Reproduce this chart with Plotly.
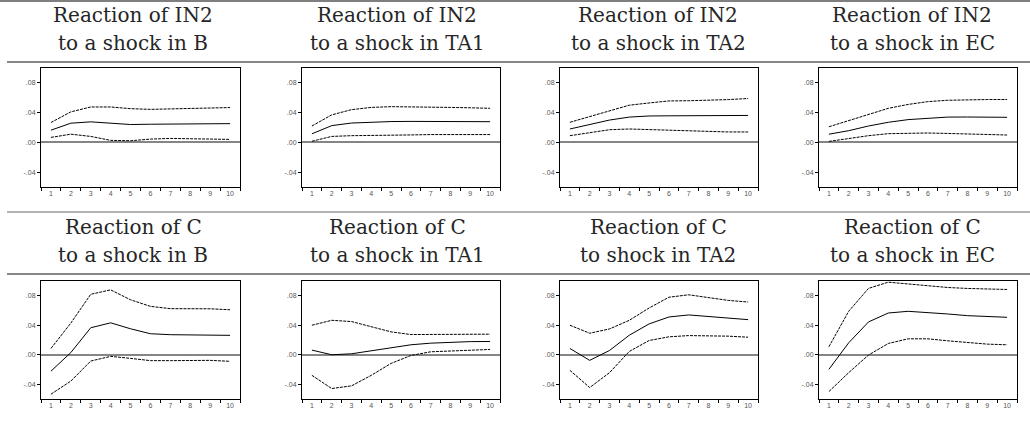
import plotly.graph_objects as go

# ---------------- data ----------------
periods = [1, 2, 3, 4, 5, 6, 7, 8, 9, 10]
x_tick_labels = ["1", "2", "3", "4", "5", "6", "7", "8", "9", "10"]
y_tick_vals = [-0.04, 0.0, 0.04, 0.08]
y_tick_text = ["-.04", ".00", ".04", ".08"]

title_line1 = [
    "Reaction of IN2", "Reaction of IN2", "Reaction of IN2", "Reaction of IN2",
    "Reaction of C", "Reaction of C", "Reaction of C", "Reaction of C",
]
title_line2 = [
    "to a shock in B", "to a shock in TA1", "to a shock in TA2", "to a shock in EC",
    "to a shock in B", "to a shock in TA1", "to shock in TA2", "to a shock in EC",
]

# Reaction of IN2
in2_b_up = [0.0267, 0.0410, 0.0476, 0.0476, 0.0453, 0.0444, 0.0450, 0.0458, 0.0462, 0.0468]
in2_b_mid = [0.0164, 0.0258, 0.0276, 0.0253, 0.0240, 0.0244, 0.0249, 0.0250, 0.0250, 0.0252]
in2_b_lo = [0.0067, 0.0110, 0.0080, 0.0027, 0.0022, 0.0044, 0.0053, 0.0049, 0.0040, 0.0040]

in2_ta1_up = [0.0220, 0.0370, 0.0440, 0.0470, 0.0480, 0.0480, 0.0475, 0.0470, 0.0465, 0.0458]
in2_ta1_mid = [0.0115, 0.0225, 0.0260, 0.0275, 0.0280, 0.0282, 0.0282, 0.0280, 0.0280, 0.0278]
in2_ta1_lo = [0.0015, 0.0080, 0.0090, 0.0090, 0.0095, 0.0100, 0.0105, 0.0105, 0.0105, 0.0105]

in2_ta2_up = [0.0270, 0.0345, 0.0427, 0.0500, 0.0530, 0.0557, 0.0560, 0.0566, 0.0575, 0.0590]
in2_ta2_mid = [0.0180, 0.0240, 0.0300, 0.0340, 0.0355, 0.0357, 0.0358, 0.0358, 0.0360, 0.0362]
in2_ta2_lo = [0.0090, 0.0135, 0.0170, 0.0180, 0.0170, 0.0160, 0.0153, 0.0144, 0.0140, 0.0140]

in2_ec_up = [0.0210, 0.0290, 0.0380, 0.0458, 0.0510, 0.0548, 0.0566, 0.0575, 0.0576, 0.0576]
in2_ec_mid = [0.0110, 0.0157, 0.0220, 0.0270, 0.0306, 0.0328, 0.0340, 0.0341, 0.0340, 0.0337]
in2_ec_lo = [0.0013, 0.0054, 0.0090, 0.0117, 0.0126, 0.0126, 0.0120, 0.0110, 0.0103, 0.0099]

# Reaction of C
c_b_up = [0.0085, 0.0430, 0.0820, 0.0880, 0.0745, 0.0656, 0.0625, 0.0625, 0.0623, 0.0610]
c_b_mid = [-0.0223, 0.0030, 0.0366, 0.0433, 0.0352, 0.0285, 0.0272, 0.0272, 0.0270, 0.0263]
c_b_lo = [-0.0535, -0.0357, -0.0085, -0.0022, -0.0049, -0.0080, -0.0080, -0.0076, -0.0076, -0.0089]

c_ta1_up = [0.0400, 0.0467, 0.0450, 0.0378, 0.0310, 0.0274, 0.0274, 0.0283, 0.0283, 0.0279]
c_ta1_mid = [0.0063, 0.0000, 0.0013, 0.0054, 0.0099, 0.0135, 0.0157, 0.0170, 0.0178, 0.0180]
c_ta1_lo = [-0.0279, -0.0458, -0.0422, -0.0279, -0.0117, -0.0010, 0.0040, 0.0054, 0.0063, 0.0072]

c_ta2_up = [0.0400, 0.0292, 0.0350, 0.0467, 0.0634, 0.0780, 0.0813, 0.0780, 0.0737, 0.0715]
c_ta2_mid = [0.0085, -0.0076, 0.0058, 0.0265, 0.0418, 0.0512, 0.0540, 0.0521, 0.0494, 0.0476]
c_ta2_lo = [-0.0211, -0.0445, -0.0243, 0.0045, 0.0193, 0.0243, 0.0260, 0.0260, 0.0252, 0.0238]

c_ec_up = [0.0108, 0.0589, 0.0900, 0.0984, 0.0960, 0.0935, 0.0912, 0.0899, 0.0890, 0.0885]
c_ec_mid = [-0.0198, 0.0162, 0.0445, 0.0566, 0.0589, 0.0575, 0.0553, 0.0530, 0.0521, 0.0508]
c_ec_lo = [-0.0499, -0.0243, -0.0004, 0.0153, 0.0216, 0.0216, 0.0189, 0.0162, 0.0144, 0.0135]

panels = [
    (in2_b_up, in2_b_mid, in2_b_lo),
    (in2_ta1_up, in2_ta1_mid, in2_ta1_lo),
    (in2_ta2_up, in2_ta2_mid, in2_ta2_lo),
    (in2_ec_up, in2_ec_mid, in2_ec_lo),
    (c_b_up, c_b_mid, c_b_lo),
    (c_ta1_up, c_ta1_mid, c_ta1_lo),
    (c_ta2_up, c_ta2_mid, c_ta2_lo),
    (c_ec_up, c_ec_mid, c_ec_lo),
]

# ---------------- layout geometry (pixels) ----------------
W, H = 1030, 421
col_px = [(41, 240), (302, 500), (560, 758), (819, 1017)]
row_px = [(68, 187), (281, 399)]
title_cx = [133, 397, 658, 912]
title_line_y = [(15, 43), (227, 255)]
rule_y = [1, 62, 212, 274]


def px_x(p):
    return p / W


def px_y(p):
    return 1 - p / H


fig = go.Figure()
layout = dict(
    width=W, height=H,
    margin=dict(l=0, r=0, t=0, b=0),
    paper_bgcolor="white", plot_bgcolor="white",
    showlegend=False,
)

half_ticks = [p - 0.5 for p in periods] + [periods[-1] + 0.5]
tick_font = dict(family="Liberation Sans", size=7, color="#555")
title_font = dict(family="DejaVu Serif", size=20, color="#262626")

annotations = []
shapes = []
for i, (up, mid, lo) in enumerate(panels):
    r, c = divmod(i, 4)
    n = i + 1
    xa = "x" if n == 1 else f"x{n}"
    ya = "y" if n == 1 else f"y{n}"
    for series, dash in ((up, "3px,1px"), (mid, "solid"), (lo, "3px,1px")):
        fig.add_trace(go.Scatter(
            x=periods, y=series, mode="lines", xaxis=xa, yaxis=ya,
            line=dict(color="black", width=1, dash=dash), hoverinfo="skip",
        ))
    x0, x1 = col_px[c]
    y0, y1 = row_px[r]
    layout["xaxis" if n == 1 else f"xaxis{n}"] = dict(
        domain=[px_x(x0), px_x(x1)], anchor=ya,
        range=[0.5, 10.5], tickvals=periods, ticktext=x_tick_labels,
        ticks="", showgrid=False, zeroline=False,
        showline=True, linecolor="black", linewidth=1, mirror=True,
        tickfont=tick_font, fixedrange=True,
        minor=dict(tickvals=half_ticks, ticks="outside", ticklen=3,
                   tickcolor="black", tickwidth=1, showgrid=False),
    )
    layout["yaxis" if n == 1 else f"yaxis{n}"] = dict(
        domain=[px_y(y1), px_y(y0)], anchor=xa,
        range=[-0.06, 0.10], tickvals=y_tick_vals, ticktext=y_tick_text,
        ticks="outside", ticklen=3, tickcolor="black", tickwidth=1,
        showgrid=False, zeroline=True, zerolinecolor="#858585", zerolinewidth=2,
        showline=True, linecolor="black", linewidth=1, mirror=True,
        tickfont=tick_font, fixedrange=True,
    )
    for txt, ly in zip((title_line1[i], title_line2[i]), title_line_y[r]):
        annotations.append(dict(
            text=txt, xref="paper", yref="paper",
            x=px_x(title_cx[c]), y=px_y(ly),
            xanchor="center", yanchor="middle", showarrow=False, align="center",
            font=title_font,
        ))

rule_styles = [("#555", 1.5, 0), ("#111", 1.2, 7), ("#666", 1.2, 7), ("#111", 1.2, 7)]
for yp, (col, w, xs) in zip(rule_y, rule_styles):
    shapes.append(dict(
        type="line", xref="paper", yref="paper",
        x0=px_x(xs), x1=1, y0=px_y(yp), y1=px_y(yp),
        line=dict(color=col, width=w),
    ))

layout["annotations"] = annotations
layout["shapes"] = shapes
fig.update_layout(**layout)
fig.write_html(
    "out.html",
    config={"displayModeBar": False},
    post_script="document.body.style.margin='0';document.body.style.overflow='hidden';",
)
